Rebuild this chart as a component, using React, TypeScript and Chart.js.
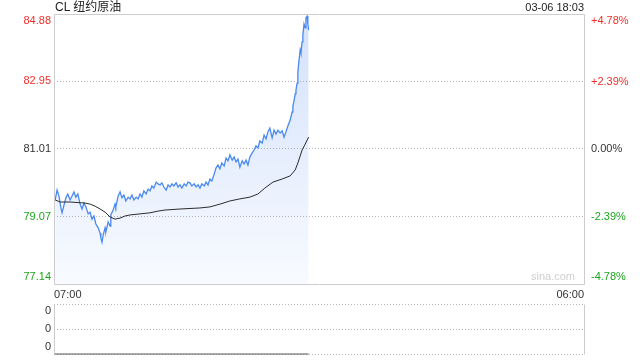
import React, { useEffect, useRef } from "react";
import { Chart, registerables } from "chart.js";

Chart.register(...registerables);

const titleText = "CL 纽约原油";
const timestampText = "03-06 18:03";
const watermarkText = "sina.com";
const xTickLabels = ["07:00", "06:00"];
const sessionMinutes = 1380;
const prevClose = 81.01;
const priceTicks = [77.14, 79.07, 81.01, 82.95, 84.88];
const pctTicks = [-4.78, -2.39, 0, 2.39, 4.78];
const pctTickLabels = ["-4.78%", "-2.39%", "0.00%", "+2.39%", "+4.78%"];

const minutes = [
  3, 8, 13, 18, 21, 26, 31, 36, 42, 47,
  52, 57, 62, 68, 73, 78, 83, 89, 94, 99,
  104, 109, 115, 120, 122, 125, 128, 133, 135, 141,
  146, 148, 154, 159, 161, 167, 172, 177, 182, 187,
  193, 198, 203, 208, 214, 219, 224, 229, 234, 240,
  245, 250, 255, 260, 266, 271, 276, 281, 286, 292,
  297, 302, 307, 312, 318, 323, 328, 333, 339, 344,
  349, 354, 359, 365, 370, 375, 380, 385, 391, 396,
  401, 406, 411, 417, 422, 427, 432, 437, 443, 448,
  453, 458, 464, 469, 474, 479, 484, 490, 495, 500,
  505, 510, 516, 521, 526, 531, 536, 542, 547, 552,
  557, 562, 568, 573, 578, 583, 589, 594, 599, 604,
  609, 615, 620, 622, 625, 628, 630, 633, 635, 638,
  641, 643, 646, 648, 651, 654, 656, 659, 661, 663,
];

const prices = [
  79.55, 79.83, 79.66, 79.32, 79.18, 79.40, 79.61, 79.72, 79.55, 79.66,
  79.78, 79.63, 79.72, 79.43, 79.29, 79.46, 79.35, 79.15, 79.20, 79.00,
  79.09, 78.86, 78.75, 78.60, 78.46, 78.34, 78.54, 78.75, 78.63, 78.92,
  78.80, 79.12, 79.26, 79.43, 79.35, 79.66, 79.78, 79.61, 79.69, 79.52,
  79.63, 79.58, 79.69, 79.55, 79.63, 79.58, 79.72, 79.63, 79.81, 79.72,
  79.86, 79.81, 79.95, 79.89, 80.06, 80.01, 79.98, 80.04, 79.92, 79.83,
  79.98, 79.92, 80.01, 79.95, 80.04, 79.92, 79.98, 79.89, 80.01, 79.95,
  80.06, 80.04, 79.95, 80.01, 79.92, 79.98, 79.89, 80.01, 79.95, 80.06,
  79.98, 80.15, 80.09, 80.29, 80.47, 80.55, 80.44, 80.61, 80.52, 80.75,
  80.67, 80.84, 80.69, 80.78, 80.64, 80.72, 80.49, 80.67, 80.58, 80.69,
  80.55, 80.78, 80.90, 80.98, 81.10, 81.04, 81.24, 81.18, 81.41, 81.30,
  81.50, 81.61, 81.33, 81.55, 81.44, 81.55, 81.47, 81.53, 81.35, 81.50,
  81.67, 81.84, 82.07, 82.24, 82.39, 82.59, 82.70, 82.90, 83.22, 83.56,
  83.85, 83.76, 84.08, 84.28, 84.59, 84.48, 84.77, 84.82, 84.59, 84.42,
];

const avgMinutes = [
  3, 16, 42, 81, 94, 107, 120, 133, 146, 159, 172, 185, 198, 224, 250, 271,
  289, 328, 380, 406, 432, 458, 484, 510, 531, 549, 570, 594, 615, 628, 635,
  646, 654, 663,
];
const avgPrices = [
  79.55, 79.49, 79.49, 79.46, 79.43, 79.37, 79.29, 79.20, 79.06, 79.0, 79.03,
  79.09, 79.12, 79.15, 79.18, 79.23, 79.26, 79.29, 79.32, 79.35, 79.43, 79.52,
  79.58, 79.63, 79.72, 79.89, 80.06, 80.15, 80.24, 80.41, 80.61, 80.98, 81.15,
  81.35,
];

const volumeMinutes = [0, 663];
const volumes = [0, 0];
const volumeTicks = [0, 0.5, 1];
const volumeTickLabels = ["0", "0", "0"];

const FONT = "'Liberation Sans', Arial, 'Noto Sans CJK SC', sans-serif";
const RED = "#f0302c";
const GREEN = "#1fa51f";
const DARK = "#333333";
const FRAME = "#cccccc";
const GRID = "#b8b8b8";

const framePlugin = {
  id: "frame",
  afterDraw(chart: any, _args: any, opts: any) {
    const { ctx, chartArea } = chart;
    const sides: string[] = opts.sides || [];
    const l = Math.round(chartArea.left) + 0.5;
    const r = Math.round(chartArea.right) + 0.5;
    const t = Math.round(chartArea.top) + 0.5;
    const b = Math.round(chartArea.bottom) + 0.5;
    ctx.save();
    ctx.strokeStyle = opts.color || FRAME;
    ctx.lineWidth = 1;
    ctx.setLineDash([]);
    ctx.beginPath();
    if (sides.includes("top")) { ctx.moveTo(l, t); ctx.lineTo(r, t); }
    if (sides.includes("bottom")) { ctx.moveTo(l, b); ctx.lineTo(r, b); }
    if (sides.includes("left")) { ctx.moveTo(l, t); ctx.lineTo(l, b); }
    if (sides.includes("right")) { ctx.moveTo(r, t); ctx.lineTo(r, b); }
    ctx.stroke();
    ctx.restore();
  },
};

function colorFor(v: number, base: number) {
  const d = Math.round((v - base) * 1000);
  if (d > 0) return RED;
  if (d < 0) return GREEN;
  return DARK;
}

// shift first/last labels inward via blank second line
function edgeLabel(text: string, index: number, count: number): any {
  if (index === 0) return [text, ""];
  if (index === count - 1) return ["", text];
  return text;
}

function fixWidth(w: number) {
  return (s: any) => {
    s.width = w;
    s.paddingTop = 0;
    s.paddingBottom = 0;
  };
}

export default function App() {
  const mainRef = useRef<HTMLCanvasElement | null>(null);
  const volRef = useRef<HTMLCanvasElement | null>(null);

  useEffect(() => {
    Chart.defaults.font.family = FONT;
    Chart.defaults.font.size = 11;

    const priceData = minutes.map((m, i) => ({ x: m, y: prices[i] }));
    const avgData = avgMinutes.map((m, i) => ({ x: m, y: avgPrices[i] }));
    const volData = volumeMinutes.map((m, i) => ({ x: m, y: volumes[i] }));

    const main = new Chart(mainRef.current as HTMLCanvasElement, {
      type: "line",
      data: {
        datasets: [
          {
            data: avgData,
            borderColor: "#2b2b2b",
            borderWidth: 1,
            pointRadius: 0,
            fill: false,
            tension: 0,
            order: 0,
          },
          {
            data: priceData,
            borderColor: "#4a89ee",
            borderWidth: 1.3,
            pointRadius: 0,
            tension: 0,
            fill: "start",
            order: 1,
            backgroundColor: (c: any) => {
              const { chart } = c;
              const area = chart.chartArea;
              if (!area) return "rgba(70,130,240,0.12)";
              const g = chart.ctx.createLinearGradient(0, area.top, 0, area.bottom);
              g.addColorStop(0, "rgba(70,130,240,0.24)");
              g.addColorStop(1, "rgba(70,130,240,0.04)");
              return g;
            },
          },
        ],
      },
      options: {
        animation: false,
        responsive: false,
        devicePixelRatio: 1,
        layout: { padding: { top: 14, left: 0, right: 0, bottom: 0 } },
        plugins: {
          legend: { display: false },
          tooltip: { enabled: false },
          frame: { sides: ["top", "bottom", "left", "right"], color: FRAME },
        } as any,
        scales: {
          x: {
            type: "linear",
            min: 0,
            max: sessionMinutes,
            afterBuildTicks: (s: any) => {
              s.ticks = [{ value: 0 }, { value: sessionMinutes }];
            },
            afterFit: (s: any) => {
              s.height = 16;
              s.paddingLeft = 0;
              s.paddingRight = 0;
            },
            grid: { display: false, drawTicks: false },
            border: { display: false },
            ticks: {
              autoSkip: false,
              maxRotation: 0,
              align: "inner",
              padding: 4,
              color: DARK,
              callback: (_v: any, i: number) => xTickLabels[i],
            },
          },
          y: {
            position: "left",
            min: priceTicks[0],
            max: priceTicks[priceTicks.length - 1],
            afterBuildTicks: (s: any) => {
              s.ticks = priceTicks.map((v) => ({ value: v }));
            },
            afterFit: fixWidth(54),
            grid: {
              drawTicks: false,
              color: (c: any) =>
                c.index === 0 || c.index === priceTicks.length - 1 ? "rgba(0,0,0,0)" : GRID,
            },
            border: { display: false, dash: [1, 2] },
            ticks: {
              autoSkip: false,
              padding: 3,
              color: (c: any) => colorFor(c.tick.value, prevClose),
              callback: (v: any, i: number) =>
                edgeLabel(Number(v).toFixed(2), i, priceTicks.length),
            },
          },
          y2: {
            position: "right",
            min: pctTicks[0],
            max: pctTicks[pctTicks.length - 1],
            afterBuildTicks: (s: any) => {
              s.ticks = pctTicks.map((v) => ({ value: v }));
            },
            afterFit: fixWidth(56),
            grid: { display: false, drawTicks: false },
            border: { display: false },
            ticks: {
              autoSkip: false,
              padding: 7,
              color: (c: any) => colorFor(c.tick.value, 0),
              callback: (_v: any, i: number) =>
                edgeLabel(pctTickLabels[i], i, pctTickLabels.length),
            },
          },
        },
      } as any,
      plugins: [framePlugin],
    });

    const vol = new Chart(volRef.current as HTMLCanvasElement, {
      type: "line",
      data: {
        datasets: [
          {
            data: volData,
            borderColor: "#555555",
            borderWidth: 1.2,
            pointRadius: 0,
            fill: false,
            tension: 0,
            clip: 4,
          } as any,
        ],
      },
      options: {
        animation: false,
        responsive: false,
        devicePixelRatio: 1,
        layout: { padding: { top: 14, left: 0, right: 56, bottom: 6 } },
        plugins: {
          legend: { display: false },
          tooltip: { enabled: false },
          frame: { sides: ["left", "right"], color: FRAME },
        } as any,
        scales: {
          x: {
            type: "linear",
            min: 0,
            max: sessionMinutes,
            display: false,
          },
          y: {
            position: "left",
            min: volumeTicks[0],
            max: volumeTicks[volumeTicks.length - 1],
            afterBuildTicks: (s: any) => {
              s.ticks = volumeTicks.map((v) => ({ value: v }));
            },
            afterFit: fixWidth(54),
            grid: { drawTicks: false, color: GRID },
            border: { display: false, dash: [1, 2] },
            ticks: {
              autoSkip: false,
              padding: 3,
              color: DARK,
              callback: (_v: any, i: number) =>
                edgeLabel(volumeTickLabels[i], i, volumeTickLabels.length),
            },
          },
        },
      } as any,
      plugins: [framePlugin],
    });

    return () => {
      main.destroy();
      vol.destroy();
    };
  }, []);

  return (
    <div
      style={{
        position: "fixed",
        left: 0,
        top: 0,
        width: 640,
        height: 360,
        background: "#ffffff",
        fontFamily: FONT,
        overflow: "hidden",
      }}
    >
      <canvas
        ref={mainRef}
        width={640}
        height={300}
        style={{ position: "absolute", left: 0, top: 0, width: 640, height: 300 }}
      />
      <canvas
        ref={volRef}
        width={640}
        height={70}
        style={{ position: "absolute", left: 0, top: 290, width: 640, height: 70 }}
      />
      <div
        style={{
          position: "absolute",
          left: 55,
          top: 0,
          fontSize: 12,
          lineHeight: "14px",
          color: "#222",
          whiteSpace: "nowrap",
        }}
      >
        {titleText}
      </div>
      <div
        style={{
          position: "absolute",
          right: 640 - 584,
          top: 0,
          fontSize: 11,
          lineHeight: "14px",
          color: "#222",
          whiteSpace: "nowrap",
        }}
      >
        {timestampText}
      </div>
      <div
        style={{
          position: "absolute",
          right: 640 - 575,
          top: 270,
          fontSize: 11,
          lineHeight: "13px",
          color: "#cfcfcf",
          whiteSpace: "nowrap",
        }}
      >
        {watermarkText}
      </div>
    </div>
  );
}
